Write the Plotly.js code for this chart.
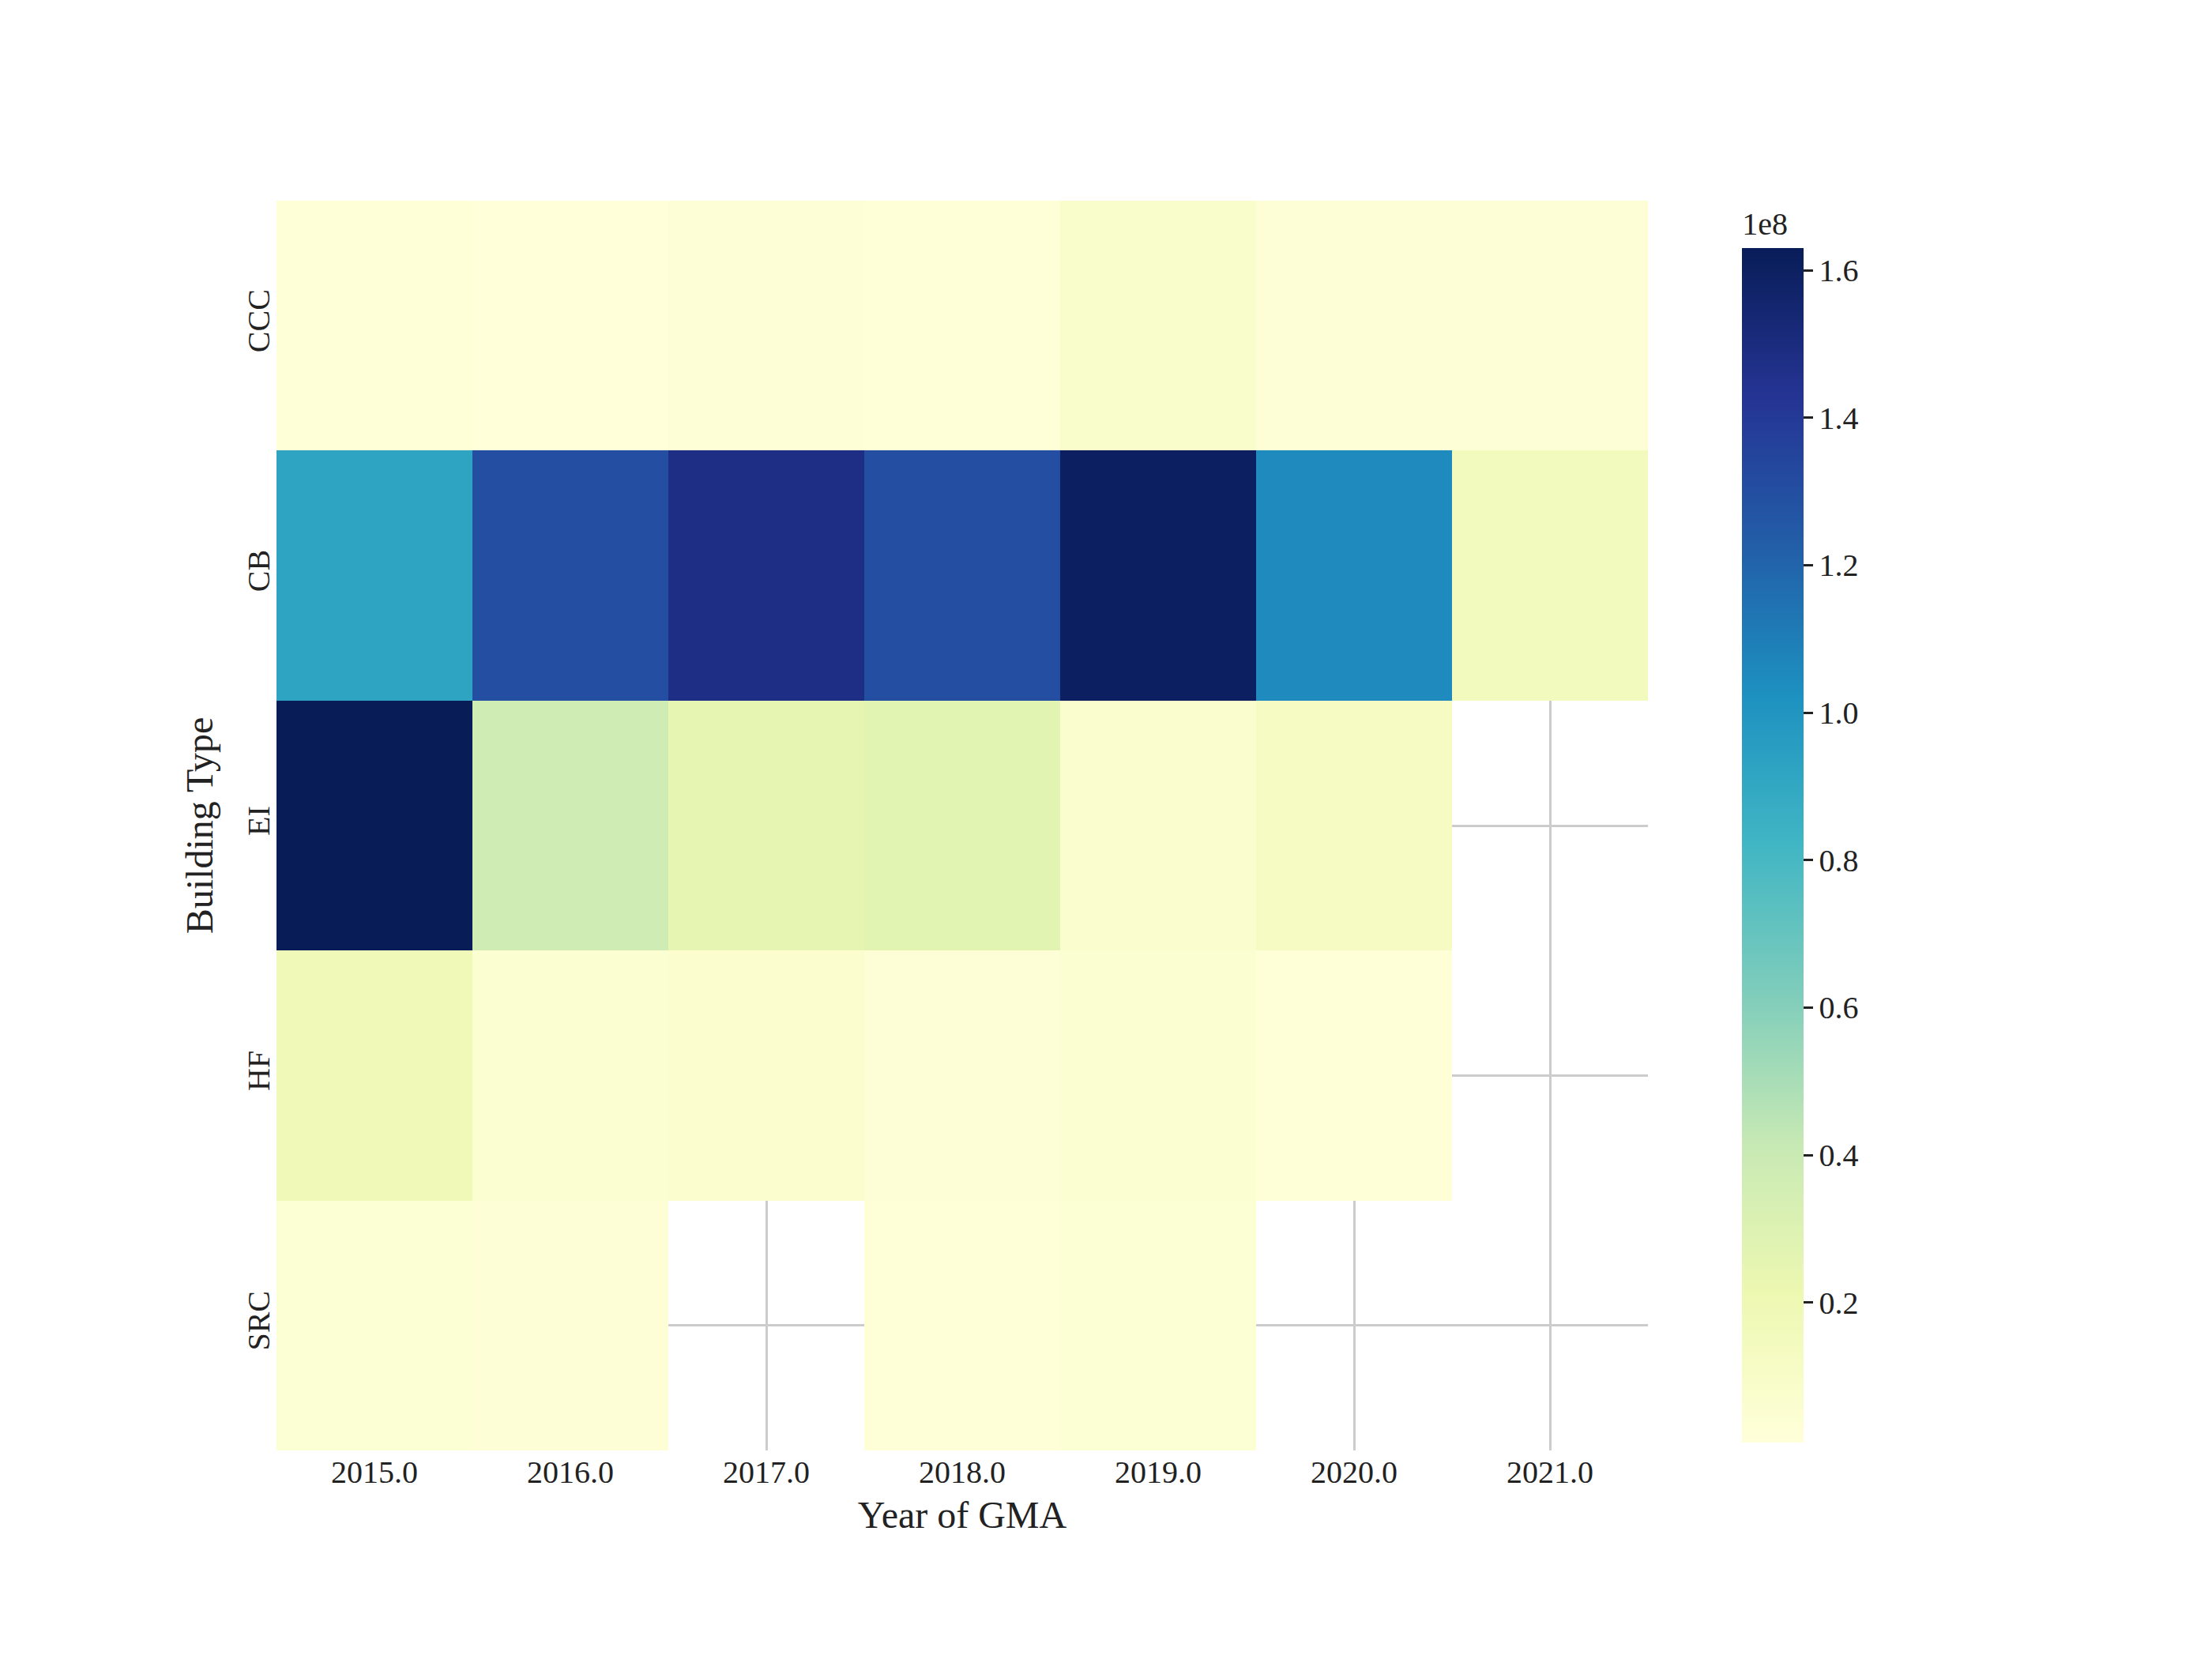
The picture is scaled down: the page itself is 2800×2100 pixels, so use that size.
<!DOCTYPE html>
<html>
<head>
<meta charset="utf-8">
<script src="https://cdn.plot.ly/plotly-3.0.1.min.js"></script>
<style>body{margin:0;background:#fff}#chart{width:2800px;height:2100px}</style>
</head>
<body>
<div id="chart"></div>
<script>
// DATA
const years = ['2015.0', '2016.0', '2017.0', '2018.0', '2019.0', '2020.0', '2021.0'];
const types = ['CCC', 'CB', 'EI', 'HF', 'SRC'];
const ccc = [2e6, 1e6, 3e6, 2e6, 8e6, 3e6, 3e6];
const cb  = [0.92e8, 1.30e8, 1.48e8, 1.30e8, 1.60e8, 1.05e8, 0.15e8];
const ei  = [1.63e8, 0.38e8, 0.25e8, 0.27e8, 0.07e8, 0.12e8, null];
const hf  = [0.17e8, 0.05e8, 0.06e8, 0.03e8, 0.05e8, 0.02e8, null];
const src = [0.04e8, 0.03e8, null, 0.02e8, 0.04e8, null, null];
const cbTicks  = [0.2e8, 0.4e8, 0.6e8, 0.8e8, 1.0e8, 1.2e8, 1.4e8, 1.6e8];
const cbLabels = ['0.2', '0.4', '0.6', '0.8', '1.0', '1.2', '1.4', '1.6'];

const font_family = '"Liberation Serif", "DejaVu Serif", serif';

const ylgnbu = [
    [0.0, '#ffffd9'], [0.125, '#edf8b1'], [0.25, '#c7e9b4'], [0.375, '#7fcdbb'],
    [0.5, '#41b6c4'], [0.625, '#1d91c0'], [0.75, '#225ea8'], [0.875, '#253494'], [1.0, '#081d58']
];

const trace = {
    type: 'heatmap',
    x: years,
    y: types,
    z: [ccc, cb, ei, hf, src],
    colorscale: ylgnbu,
    zmin: 1e6,
    zmax: 1.63e8,
    hoverongaps: false,
    colorbar: {
        x: 1.063, xanchor: 'left', xref: 'paper',
        y: 0.5, yanchor: 'middle', len: 1, lenmode: 'fraction',
        thickness: 78, outlinewidth: 0,
        tickvals: cbTicks, ticktext: cbLabels,
        ticks: 'outside', ticklen: 12, tickwidth: 3, tickcolor: '#222',
        tickfont: {family: font_family, size: 40, color: '#222'},
        title: {text: '1e8', side: 'top', font: {family: font_family, size: 40, color: '#222'}}
    }
};

const layout = {
    width: 2800, height: 2100,
    paper_bgcolor: '#fff', plot_bgcolor: '#fff',
    margin: {l: 350, r: 714, t: 254, b: 264},
    font: {family: font_family, color: '#222'},
    xaxis: {
        type: 'category', showgrid: true, gridcolor: '#cccccc', gridwidth: 3, zeroline: false,
        ticks: '', tickfont: {size: 40}, showline: false,
        title: {text: 'Year of GMA', font: {size: 48}, standoff: 15}
    },
    yaxis: {
        type: 'category', autorange: 'reversed', showgrid: true, gridcolor: '#cccccc', gridwidth: 3,
        zeroline: false, ticks: '', tickangle: -90, tickfont: {size: 40}, showline: false,
        title: {text: 'Building Type', font: {size: 48}, standoff: 20}
    }
};

Plotly.newPlot('chart', [trace], layout, {displayModeBar: false});
</script>
</body>
</html>
